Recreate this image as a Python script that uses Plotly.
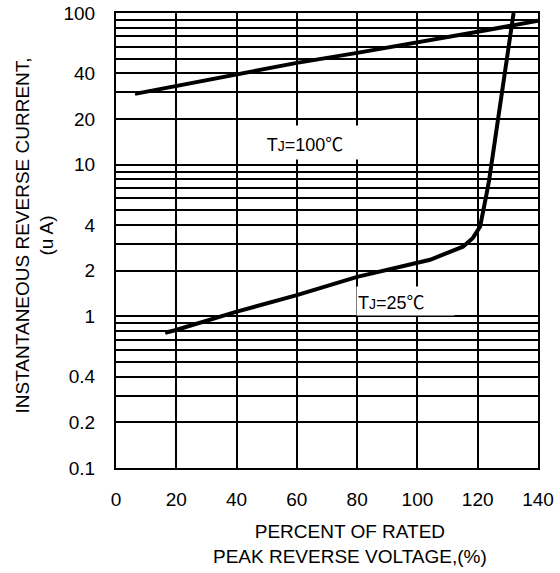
import plotly.graph_objects as go

# --- data ---
x_100 = [6.3, 20, 40, 60, 80, 100, 120, 140]
y_100 = [29.3, 33.1, 39.7, 46.9, 54.6, 63.6, 75.2, 88.9]

x_25 = [16.3, 19.6, 39.8, 60.0, 80.0, 99.9, 104.2, 115.1, 118.4, 120.8, 121.8, 123.0, 123.8, 131.9]
y_25 = [0.78, 0.81, 1.07, 1.38, 1.82, 2.25, 2.36, 2.88, 3.29, 3.91, 4.81, 6.52, 7.94, 100]

x_ticks = [0, 20, 40, 60, 80, 100, 120, 140]
y_ticks = [0.1, 0.2, 0.4, 1, 2, 4, 10, 20, 40, 100]
y_ticktext = ["0.1", "0.2", "0.4", "1", "2", "4", "10", "20", "40", "100"]
y_minor = [0.3, 0.5, 0.6, 0.7, 0.8, 0.9, 3, 5, 6, 7, 8, 9, 30, 50, 60, 70, 80, 90]

FONT = "Liberation Sans, Arial, Noto Sans CJK SC, sans-serif"
DEG = "<span style='font-family:Noto Sans CJK SC'>℃</span>"

fig = go.Figure()
fig.add_trace(go.Scatter(x=x_100, y=y_100, mode="lines",
                         line=dict(color="black", width=4), showlegend=False))
fig.add_trace(go.Scatter(x=x_25, y=y_25, mode="lines",
                         line=dict(color="black", width=4), showlegend=False))

fig.update_layout(
    width=560, height=573,
    margin=dict(l=116, r=22, t=13, b=105, autoexpand=False),
    plot_bgcolor="white", paper_bgcolor="white",
    font=dict(family=FONT, size=19, color="black"),
    showlegend=False,
)

fig.update_xaxes(
    range=[0, 140], tickmode="array", tickvals=x_ticks,
    showgrid=True, gridcolor="black", gridwidth=2,
    showline=True, linecolor="black", linewidth=2, mirror=True,
    ticks="", ticklabelstandoff=13, zeroline=False, automargin=False,
    tickfont=dict(size=19),
)
fig.update_yaxes(
    type="log", range=[-1, 2], tickmode="array",
    tickvals=y_ticks, ticktext=y_ticktext,
    showgrid=True, gridcolor="black", gridwidth=2,
    minor=dict(tickmode="array", tickvals=y_minor, showgrid=True,
               gridcolor="black", gridwidth=2, ticks=""),
    showline=True, linecolor="black", linewidth=2, mirror=True,
    ticks="", ticklabelstandoff=15, zeroline=False, automargin=False,
    tickfont=dict(size=19),
)

# curve labels with white boxes
fig.add_annotation(x=62.8, y=1.143, xref="x", yref="y",
                   text="T<span style='font-size:14px'>J</span>=100" + DEG,
                   showarrow=False, bgcolor="white", width=130, height=31,
                   borderpad=1, font=dict(size=18))
fig.add_annotation(x=96.1, y=0.1016, xref="x", yref="y",
                   text="T<span style='font-size:14px'>J</span>=25" + DEG,
                   showarrow=False, bgcolor="white", width=95, height=26,
                   borderpad=1, align="left", font=dict(size=18))

# axis titles
fig.add_annotation(x=0.5545, y=-0.113, xref="paper", yref="paper",
                   xanchor="center", yanchor="top",
                   text="PERCENT OF RATED<br>PEAK REVERSE VOLTAGE,(%)",
                   showarrow=False, font=dict(size=19))
fig.add_annotation(x=-0.193, y=0.51, xref="paper", yref="paper",
                   xanchor="center", yanchor="middle", textangle=-90,
                   text="INSTANTANEOUS REVERSE CURRENT,<br>(u A)",
                   showarrow=False, font=dict(size=19))

fig.write_html("out.html", config={"displayModeBar": False},
               post_script="document.body.style.margin='0';")
